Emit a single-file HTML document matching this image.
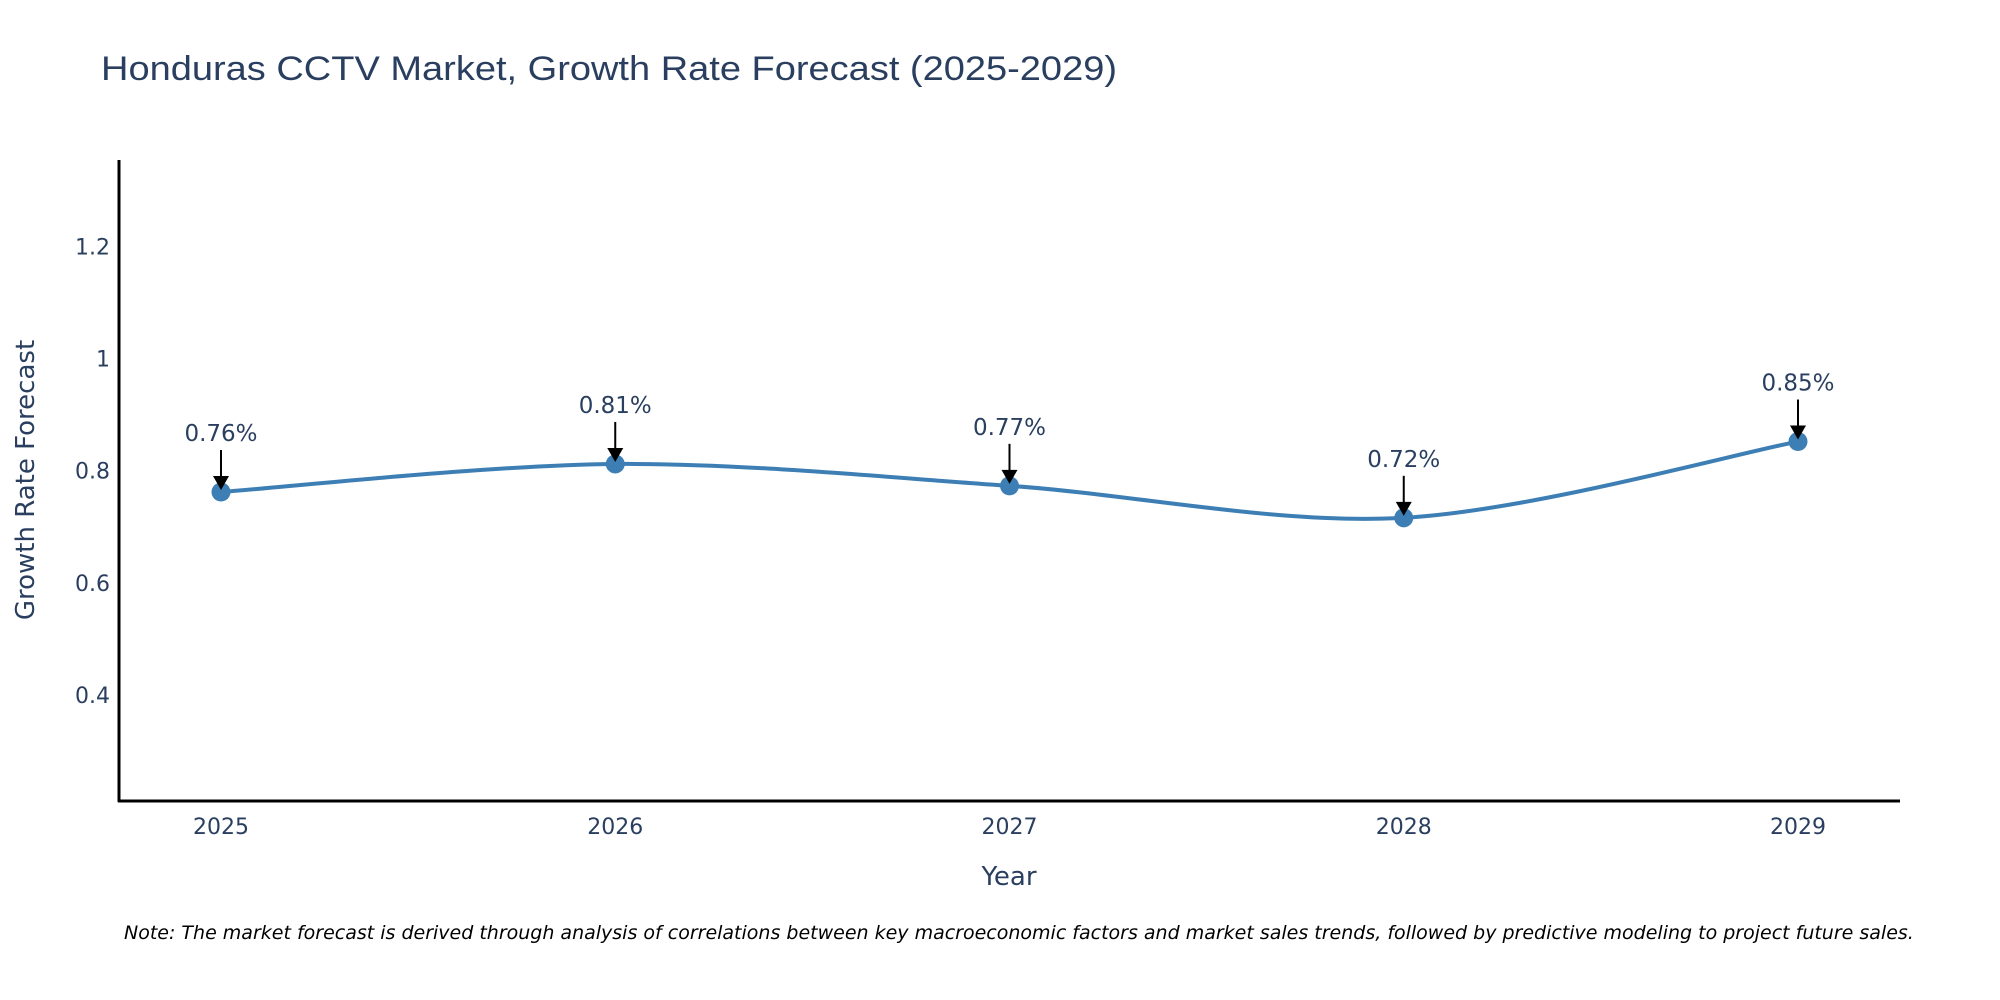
<!DOCTYPE html>
<html><head><meta charset="utf-8"><style>
html,body{margin:0;padding:0;background:#fff;}
svg{display:block;font-family:"DejaVu Sans","Liberation Sans",sans-serif;}
</style></head><body>
<svg id="chart" width="2000" height="1000" viewBox="0 0 2000 1000" xmlns="http://www.w3.org/2000/svg">
<text x="101" y="80" font-size="34" fill="#2a3f5f" font-family="Liberation Sans, sans-serif" textLength="1016" lengthAdjust="spacingAndGlyphs">Honduras CCTV Market, Growth Rate Forecast (2025-2029)</text>
<g id="yticks"></g><g id="xticks"></g>
<line x1="119" y1="160" x2="119" y2="802" stroke="#000" stroke-width="3"/>
<line x1="118" y1="801" x2="1900" y2="801" stroke="#000" stroke-width="3"/>
<g id="series"></g><g id="annots"></g>
<text transform="translate(34,480) rotate(-90)" text-anchor="middle" font-size="26" fill="#2a3f5f">Growth Rate Forecast</text>
<text x="1009" y="885" text-anchor="middle" font-size="26" fill="#2a3f5f">Year</text>
<text x="124" y="939" font-size="19" font-style="italic" fill="#000">Note: The market forecast is derived through analysis of correlations between key macroeconomic factors and market sales trends, followed by predictive modeling to project future sales.</text>
</svg>
<script>
const years = [2025, 2026, 2027, 2028, 2029];
const growth = [0.762, 0.812, 0.773, 0.716, 0.852];
const labels = ["0.76%", "0.81%", "0.77%", "0.72%", "0.85%"];
const yTickValues = [0.4, 0.6, 0.8, 1, 1.2];
const yTickLabels = ["0.4", "0.6", "0.8", "1", "1.2"];

const NS = "http://www.w3.org/2000/svg";
function xScale(v){ return 221 + (v - 2025) * 394.25; }
function yScale(v){ return 470.7 - (v - 0.8) * 561; }
function mk(tag, attrs, parent){ const e=document.createElementNS(NS,tag); for(const k in attrs) e.setAttribute(k,attrs[k]); parent.appendChild(e); return e; }

const yt=document.getElementById('yticks');
yTickValues.forEach((v,i)=>{
  const t=mk('text',{x:110,y:yScale(v)+8,'text-anchor':'end','font-size':22,fill:'#2a3f5f'},yt);
  
  
  t.textContent=yTickLabels[i];
});
const xt=document.getElementById('xticks');
years.forEach(y=>{
  const t=mk('text',{x:xScale(y),y:834,'text-anchor':'middle','font-size':22,fill:'#2a3f5f'},xt);
  
  
  t.textContent=String(y);
});

const pts=years.map((y,i)=>[xScale(y),yScale(growth[i])]);
let d=`M${pts[0][0]},${pts[0][1]}`;
const s=0.16;
for(let i=0;i<pts.length-1;i++){
  const p0=pts[Math.max(0,i-1)],p1=pts[i],p2=pts[i+1],p3=pts[Math.min(pts.length-1,i+2)];
  const c1=[p1[0]+(p2[0]-p0[0])*s,p1[1]+(p2[1]-p0[1])*s];
  const c2=[p2[0]-(p3[0]-p1[0])*s,p2[1]-(p3[1]-p1[1])*s];
  d+=` C${c1[0]},${c1[1]} ${c2[0]},${c2[1]} ${p2[0]},${p2[1]}`;
}
const ser=document.getElementById('series');
const line=mk('path',{d:d,fill:'none',stroke:'#3d7fb4','stroke-width':4},ser);


pts.forEach(p=>{
  const c=mk('circle',{cx:p[0],cy:p[1],r:9.5,fill:'#3d7fb4'},ser);
  
  
});
const an=document.getElementById('annots');
pts.forEach((p,i)=>{
  const l=mk('line',{x1:p[0],y1:p[1]-42,x2:p[0],y2:p[1]-14,stroke:'#000','stroke-width':2},an);
  
  
  const h=mk('polygon',{points:`${p[0]-8},${p[1]-16} ${p[0]+8},${p[1]-16} ${p[0]},${p[1]-2}`,fill:'#000'},an);
  
  
  const t=mk('text',{x:p[0],y:p[1]-51,'text-anchor':'middle','font-size':23,fill:'#2a3f5f'},an);
  
  
  t.textContent=labels[i];
});
</script>
</body></html>
